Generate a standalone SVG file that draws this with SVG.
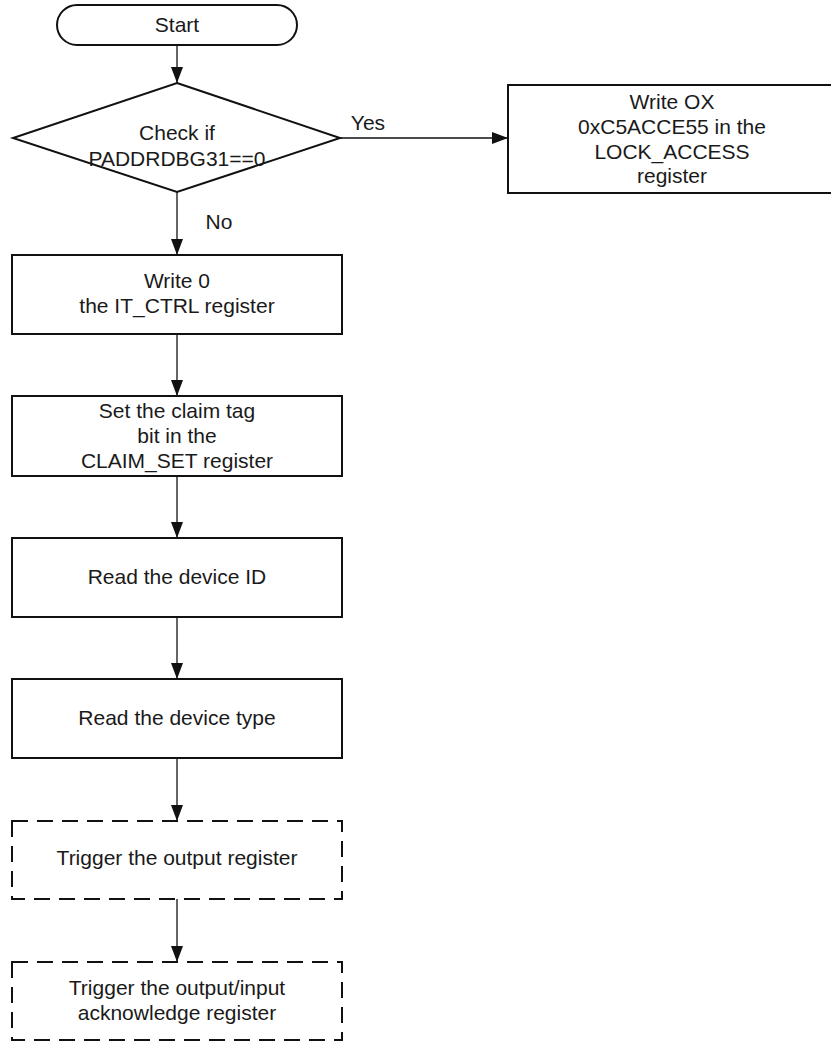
<svg xmlns="http://www.w3.org/2000/svg" width="831" height="1044" viewBox="0 0 831 1044">
<defs>
<style>
.box{fill:#fff;stroke:#111;stroke-width:2}
.dash{fill:#fff;stroke:#111;stroke-width:2;stroke-dasharray:16 9}
.con{fill:none;stroke:#111;stroke-width:1.3}
text{font-family:"Liberation Sans",Arial,sans-serif;font-size:21px;fill:#1a1a1a;text-anchor:middle}
</style>
<marker id="arr" markerWidth="16" markerHeight="12" refX="16" refY="6" orient="auto" markerUnits="userSpaceOnUse">
<path d="M0,0 L16,6 L0,12 Z" fill="#111"/>
</marker>
</defs>
<rect width="831" height="1044" fill="#fff"/>
<g id="connectors">
<line class="con" x1="177" y1="45" x2="177" y2="83" marker-end="url(#arr)"/>
<line class="con" x1="340" y1="138" x2="508" y2="138" marker-end="url(#arr)"/>
<line class="con" x1="177" y1="192" x2="177" y2="255" marker-end="url(#arr)"/>
<line class="con" x1="177" y1="334" x2="177" y2="396" marker-end="url(#arr)"/>
<line class="con" x1="177" y1="476" x2="177" y2="538" marker-end="url(#arr)"/>
<line class="con" x1="177" y1="617" x2="177" y2="679" marker-end="url(#arr)"/>
<line class="con" x1="177" y1="758" x2="177" y2="821" marker-end="url(#arr)"/>
<line class="con" x1="177" y1="899" x2="177" y2="962" marker-end="url(#arr)"/>
<text x="368" y="130">Yes</text>
<text x="219" y="229">No</text>
</g>
<g id="start">
<rect class="box" x="57" y="5" width="240" height="40" rx="20"/>
<text x="177" y="32">Start</text>
</g>
<g id="check">
<polygon class="box" points="177,83 340,138 177,192 13,138"/>
<text x="177" y="140">Check if</text>
<text x="177" y="166">PADDRDBG31==0</text>
</g>
<g id="lock">
<rect class="box" x="508" y="85" width="328" height="108"/>
<text x="672" y="109">Write OX</text>
<text x="672" y="134">0xC5ACCE55 in the</text>
<text x="672" y="159">LOCK_ACCESS</text>
<text x="672" y="183">register</text>
</g>
<g id="itctrl">
<rect class="box" x="12" y="255" width="330" height="79"/>
<text x="177" y="288">Write 0</text>
<text x="177" y="313">the IT_CTRL register</text>
</g>
<g id="claim">
<rect class="box" x="12" y="396" width="330" height="80"/>
<text x="177" y="418">Set the claim tag</text>
<text x="177" y="443">bit in the</text>
<text x="177" y="468">CLAIM_SET register</text>
</g>
<g id="devid">
<rect class="box" x="12" y="538" width="330" height="79"/>
<text x="177" y="584">Read the device ID</text>
</g>
<g id="devtype">
<rect class="box" x="12" y="679" width="330" height="79"/>
<text x="177" y="725">Read the device type</text>
</g>
<g id="trigout">
<rect class="dash" x="12" y="821" width="330" height="78"/>
<text x="177" y="865">Trigger the output register</text>
</g>
<g id="trigack">
<rect class="dash" x="12" y="962" width="330" height="78"/>
<text x="177" y="995">Trigger the output/input</text>
<text x="177" y="1020">acknowledge register</text>
</g>
</svg>
